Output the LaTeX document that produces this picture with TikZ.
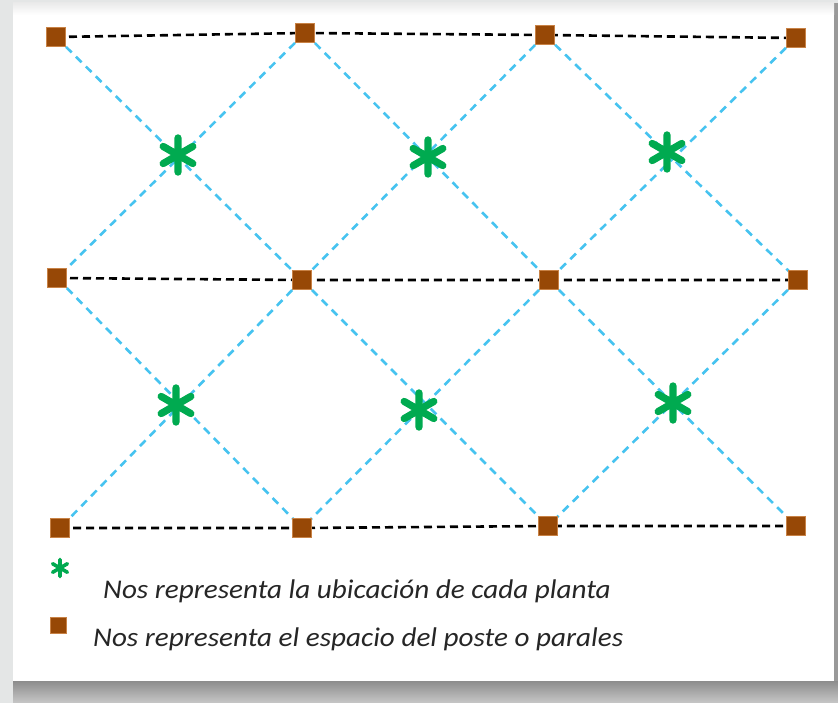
\documentclass[tikz,border=0pt]{standalone}
\usepackage{fontspec}
\setmainfont{Carlito}
\usetikzlibrary{backgrounds}
\definecolor{postbrown}{RGB}{151,72,6}
\definecolor{postedge}{RGB}{200,130,70}
\definecolor{diagblue}{RGB}{70,195,240}
\definecolor{plantgreen}{RGB}{0,170,80}
\definecolor{outergray}{RGB}{228,230,230}
\pgfdeclarelayer{bgl}
\pgfdeclarelayer{linel}
\pgfsetlayers{bgl,linel,main}
\tikzset{
  post/.style={rectangle, minimum size=19pt, inner sep=0pt, fill=postbrown, draw=postedge, line width=0.6pt},
  rowline/.style={black, line width=2.6pt, dash pattern=on 8pt off 5pt},
  diagline/.style={diagblue, line width=2.6pt, dash pattern=on 8pt off 6pt},
  legendtext/.style={anchor=base west, font=\itshape\fontsize{27}{32}\selectfont, inner sep=0pt, xscale=1.08, text=black!85},
  plantstar/.pic={
    \draw[plantgreen, line width=#1*0.19pt, line cap=round]
      (0,-#1*0.45) -- (0,#1*0.45)
      (-#1*0.39,-#1*0.225) -- (#1*0.39,#1*0.225)
      (-#1*0.39,#1*0.225) -- (#1*0.39,-#1*0.225);
  },
}
\begin{document}
\begin{tikzpicture}[x=1pt,y=-1pt]
\useasboundingbox (0,0) rectangle (838,703);
\begin{pgfonlayer}{bgl}
  \fill[outergray] (0,0) rectangle (838,703);
  % shadow
  \shade[top color=black!45, bottom color=black!22] (13,681) rectangle (838,703);
  \fill[black!40] (834,3) rectangle (838,681);
  % white panel
  \fill[white] (13,3) rectangle (834,681);
  \shade[top color=black!8, bottom color=white] (13,3) rectangle (834,15);
\end{pgfonlayer}

% posts
\node[post] (p11) at (56,37) {};
\node[post] (p12) at (305,33) {};
\node[post] (p13) at (545,35) {};
\node[post] (p14) at (796,38) {};
\node[post] (p21) at (57,278) {};
\node[post] (p22) at (302,280) {};
\node[post] (p23) at (549,280) {};
\node[post] (p24) at (798,280) {};
\node[post] (p31) at (60,528) {};
\node[post] (p32) at (302,528) {};
\node[post] (p33) at (548,526) {};
\node[post] (p34) at (796,526) {};

\begin{pgfonlayer}{linel}
  \foreach \r in {1,2,3}{
    \draw[rowline] (p\r1.center) -- (p\r2.center) -- (p\r3.center) -- (p\r4.center);
  }
  \foreach \a/\b in {1/2,2/1,2/3,3/2,3/4,4/3}{
    \draw[diagline] (p1\a.center) -- (p2\b.center);
    \draw[diagline] (p2\a.center) -- (p3\b.center);
  }
\end{pgfonlayer}

% plants
\pic at (178,155) {plantstar=38};
\pic at (428,157) {plantstar=38};
\pic at (667,152) {plantstar=38};
\pic at (176,405) {plantstar=38};
\pic at (419,410) {plantstar=38};
\pic at (673,403) {plantstar=38};

% legend
\pic at (60,568) {plantstar=19};
\node[legendtext] (t1) at (103,598) {Nos representa la ubicación de cada planta};
\node[post, minimum size=16pt] (lp) at (58,625) {};
\node[legendtext] (t2) at (93,646) {Nos representa el espacio del poste o parales};
\end{tikzpicture}
\end{document}
